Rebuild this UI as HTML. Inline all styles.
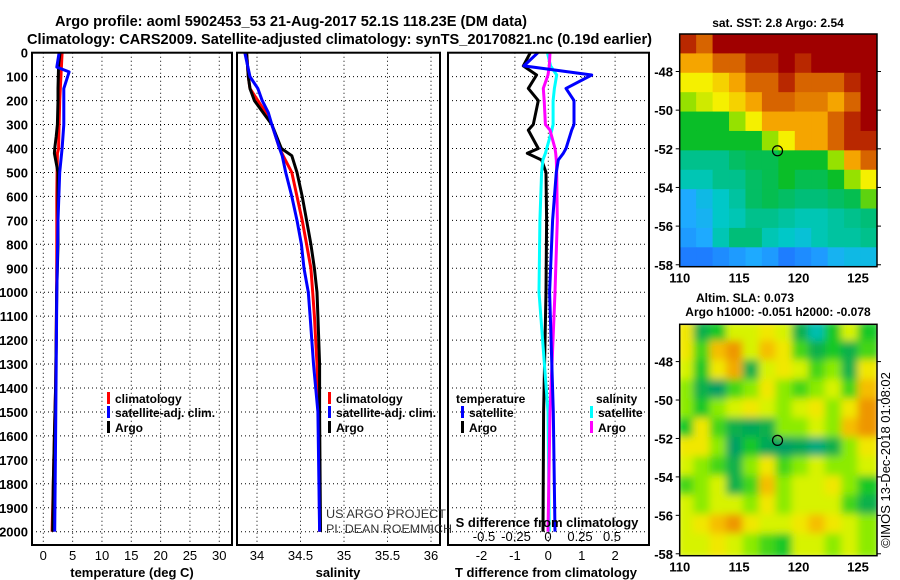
<!DOCTYPE html>
<html><head><meta charset="utf-8">
<style>
html,body{margin:0;padding:0;background:#fff;}
svg{display:block;font-family:"Liberation Sans",Arial,sans-serif;}
.b{font-weight:bold;}
</style></head>
<body>
<svg id="fig" width="900" height="580" viewBox="0 0 900 580">
<text class="b" x="55" y="26" font-size="15" textLength="472" lengthAdjust="spacingAndGlyphs">Argo profile: aoml 5902453_53 21-Aug-2017 52.1S 118.23E (DM data)</text>
<text class="b" x="27" y="44" font-size="15" textLength="625" lengthAdjust="spacingAndGlyphs">Climatology: CARS2009. Satellite-adjusted climatology: synTS_20170821.nc (0.19d earlier)</text>
<g id="panels"></g>
<g id="maps"></g>
<text class="b" x="778" y="27" font-size="12" text-anchor="middle">sat. SST: 2.8 Argo: 2.54</text>
<text class="b" x="745" y="302" font-size="12" text-anchor="middle">Altim. SLA: 0.073</text>
<text class="b" x="778" y="316" font-size="12" text-anchor="middle">Argo h1000: -0.051 h2000: -0.078</text>
<text x="0" y="0" font-size="13" text-anchor="middle" transform="translate(890,460) rotate(-90)">©IMOS 13-Dec-2018 01:08:02</text>
<text x="326" y="518" font-size="12" fill="#333" textLength="120" lengthAdjust="spacingAndGlyphs">US ARGO PROJECT</text>
<text x="326" y="533" font-size="12" fill="#333" textLength="126" lengthAdjust="spacingAndGlyphs">PI: DEAN ROEMMICH</text>
</svg>
<script>
// ---------- profile data ----------
const tDepth=[0,50,100,150,200,300,350,400,420,500,600,800,1000,1200,1400,1600,1800,2000];
const tArgo=[2.85,2.6,2.56,2.5,2.5,2.4,2.2,1.95,1.9,2.5,2.5,2.5,2.28,2.2,2.1,1.9,1.7,1.6];
const tClim=[3.2,3.1,3.0,2.9,2.8,2.7,2.65,2.6,2.4,2.35,2.3,2.3,2.27,2.2,2.1,1.9,1.7,1.5];
const tSatDepth=[0,60,80,150,300,400,500,700,1000,1300,1600,2000];
const tSat=[2.7,2.3,4.4,3.5,3.5,3.2,2.8,2.5,2.3,2.2,2.1,1.95];
const sDepth=[0,100,150,200,250,300,400,430,500,600,700,800,900,1000,1100,1300,1500,2000];
const sArgo=[33.88,33.9,33.92,33.97,34.07,34.17,34.28,34.4,34.46,34.52,34.57,34.62,34.66,34.69,34.7,34.72,34.72,34.73];
const sClim=[33.88,33.9,33.92,34.01,34.1,34.17,34.26,34.3,34.4,34.46,34.52,34.57,34.62,34.64,34.66,34.69,34.71,34.72];
const sSat=[33.86,33.92,34.01,34.06,34.13,34.17,34.26,34.29,34.33,34.4,34.46,34.51,34.54,34.59,34.61,34.65,34.7,34.72];
const dDepth=[0,55,93,149,200,300,323,400,420,448,500,700,1000,1500,2000];
const dTSat=[-0.31,-0.73,1.3,0.53,0.77,0.77,0.7,0.53,0.45,0.3,0.24,0.13,0.04,0.15,0.2];
const dTArgo=[-0.54,-0.75,-0.35,-0.6,-0.3,-0.45,-0.6,-0.3,-0.63,-0.2,-0.07,-0.05,-0.07,-0.14,-0.16];
const dSSat=[-0.005,0.02,0.068,0.05,0.04,0.04,0.03,-0.01,-0.02,-0.04,-0.05,-0.063,-0.07,0,0.01];
const dSArgo=[0.016,0.01,0.0,-0.037,-0.03,-0.02,0.016,0.055,0.06,0.065,0.068,0.073,0.055,0.016,0.0];
const depthTicks=[0,100,200,300,400,500,600,700,800,900,1000,1100,1200,1300,1400,1500,1600,1700,1800,1900,2000];
const tTicks=[0,5,10,15,20,25,30];
const sTicks=[34,34.5,35,35.5,36];
const dtTicks=[-2,-1,0,1,2];
const dsTicks=[-0.5,-0.25,0,0.25,0.5];
// ---------- map data (12 lon cols x 12 lat rows, north to south) ----------
const sstRows=[
[5.5,5,6,6,6,6,6,6,6,6,6,6],
[4.5,4.5,5,5,5.5,5.5,6,5.5,6,6,6,6],
[4,4,4.2,4.5,5,5,5.5,5,5,5,5.5,6],
[3.5,3.8,4,4.2,4.5,5,5,4.8,4.8,4.5,5,6],
[3,3,3,3.5,4,4.5,4.5,4.5,4.5,5,5.5,6],
[3,3,3,3,3,3.5,4,4.5,4.5,5,5.5,5.5],
[2.5,2.5,2.5,2.7,2.8,2.8,3,3,3,3.5,4.5,5],
[2.3,2.3,2.5,2.5,2.7,2.8,3,2.8,2.8,3,3.5,4],
[1.8,2,2.2,2.4,2.7,2.8,2.7,2.6,2.6,2.7,2.8,3.3],
[1.8,1.9,2.2,2.3,2.5,2.5,2.4,2.3,2.3,2.4,2.5,2.6],
[1.7,1.8,2.3,2.6,2.6,2.3,2.2,2.1,2.3,2.4,2.4,2.5],
[1.5,1.5,1.6,1.7,1.8,1.7,1.5,1.6,1.7,1.9,2,2]];
const slaRows=[
[0.5,-0.8,-0.5,0.3,0.3,0.5,0.3,-0.8,-1.3,-0.5,0.3,-0.5],
[0.5,-0.3,0.8,1,0.3,0.8,0.5,-0.3,-0.8,-0.5,-0.8,-0.3],
[0.3,-0.5,0.5,0.9,-0.8,0.3,0.5,0.3,-0.3,0,-0.8,0.5],
[0,-0.8,-1,-0.3,0,0.5,0,-0.3,0,0.3,-0.3,0.8],
[0,-0.5,0,0.3,0.5,0.3,0,0.3,0.5,0,0.5,1],
[-0.5,0.5,-0.3,-0.8,-0.9,-0.8,0,0,0.3,0,0.8,1],
[0.5,0.5,0,-1,-0.5,-0.9,-1,-0.9,-1.1,-0.8,0,0.5],
[0.3,0,-0.3,-0.8,0,0.5,-0.3,0,0.3,0,0,0.3],
[-0.3,0,0.3,-0.8,-0.3,0.8,0,0.3,0.3,0.5,0,-0.5],
[0.3,0,0.3,0.3,0,0.5,0,0.3,0.3,0.3,-0.3,-0.8],
[0.3,0.5,0.8,1,0.5,0.3,0.3,0.5,0.8,0.5,0.3,0],
[0.3,0.3,0.5,0.3,0,-0.3,-0.5,0.3,0.3,0,0.3,0]];
const lonTicks=[110,115,120,125];
const latTicks=[-48,-50,-52,-54,-56,-58];
const argoLon=[118.23];
const argoLat=[-52.1];

const NS='http://www.w3.org/2000/svg';
function mk(tag,attrs,parent){const e=document.createElementNS(NS,tag);for(const k in attrs)e.setAttribute(k,attrs[k]);parent.appendChild(e);return e;}
const panels=document.getElementById('panels');
const maps=document.getElementById('maps');
const TOP=52.7, BOT=545, PXM=0.2395;
const yD=d=>TOP+d*PXM;

function frame(x0,x1,name){
  const r=mk('rect',{x:x0,y:TOP,width:x1-x0,height:BOT-TOP,fill:'none',stroke:'#000','stroke-width':2},panels);
  
  
}
function grid(x0,x1,xs){
  depthTicks.forEach(d=>{const l=mk('line',{x1:x0,x2:x1,y1:yD(d),y2:yD(d),stroke:'#000','stroke-width':1,'stroke-dasharray':'1,3'},panels);
    
    });
  xs.forEach(x=>{const l=mk('line',{x1:x,x2:x,y1:TOP,y2:BOT,stroke:'#000','stroke-width':1,'stroke-dasharray':'1,3'},panels);
    
    });
}
function line(depths,vals,fx,color,name){
  const pts=depths.map((d,i)=>fx(vals[i]).toFixed(1)+','+yD(d).toFixed(1)).join(' ');
  const p=mk('polyline',{points:pts,fill:'none',stroke:color,'stroke-width':3,'stroke-linejoin':'round'},panels);
  
  
}
function txt(x,y,s,attrs,name){const t=mk('text',Object.assign({x:x,y:y,'font-size':13,'font-weight':'bold'},attrs||{}),panels);t.textContent=s;
  
  return t;}
function legItem(x,y,color,label,name){
  const r=mk('rect',{x:x,y:y-11,width:3,height:12,fill:color},panels);
  
  
  txt(x+8,y,label,{'font-size':12},name+'-label');
}

// Panel 1: temperature
const fT=v=>43.3+v*5.866;
grid(32,232,tTicks.map(fT));
line(tDepth,tClim,fT,'#f00','temp-climatology-line');
line(tDepth,tArgo,fT,'#000','temp-argo-line');
line(tSatDepth,tSat,fT,'#00f','temp-satellite-line');
frame(32,232,'temperature-panel');
depthTicks.forEach(d=>txt(28,yD(d)+5,String(d),{'text-anchor':'end'},'depth-tick-label'));
tTicks.forEach(v=>txt(fT(v),560,String(v),{'text-anchor':'middle','font-weight':'normal'},'temp-tick-label'));
txt(132,577,'temperature (deg C)',{'text-anchor':'middle'},'temp-axis-title');
legItem(107,403,'#f00','climatology','temp-legend-climatology');
legItem(107,417,'#00f','satellite-adj. clim.','temp-legend-satellite');
legItem(107,432,'#000','Argo','temp-legend-argo');

// Panel 2: salinity
const fS=v=>257+(v-34)*87;
grid(237,440,sTicks.map(fS));
line(sDepth,sClim,fS,'#f00','sal-climatology-line');
line(sDepth,sArgo,fS,'#000','sal-argo-line');
line(sDepth,sSat,fS,'#00f','sal-satellite-line');
frame(237,440,'salinity-panel');
sTicks.forEach(v=>txt(fS(v),560,String(v),{'text-anchor':'middle','font-weight':'normal'},'sal-tick-label'));
txt(338,577,'salinity',{'text-anchor':'middle'},'sal-axis-title');
legItem(328,403,'#f00','climatology','sal-legend-climatology');
legItem(328,417,'#00f','satellite-adj. clim.','sal-legend-satellite');
legItem(328,432,'#000','Argo','sal-legend-argo');

// Panel 3: differences
const fDT=v=>548.3+v*33.4;
const fDS=v=>548+v*128;
grid(448,649,dtTicks.map(fDT));
line(dDepth,dTArgo,fDT,'#000','dtemp-argo-line');
line(dDepth,dSSat,fDS,'#0ff','dsal-satellite-line');
line(dDepth,dSArgo,fDS,'#f0f','dsal-argo-line');
line(dDepth,dTSat,fDT,'#00f','dtemp-satellite-line');
frame(448,649,'difference-panel');
dtTicks.forEach(v=>txt(fDT(v),560,String(v),{'text-anchor':'middle','font-weight':'normal'},'dtemp-tick-label'));
dsTicks.forEach(v=>txt(fDS(v),541,String(v),{'text-anchor':'middle','font-weight':'normal'},'dsal-tick-label'));
txt(547,527,'S difference from climatology',{'text-anchor':'middle'},'dsal-axis-title');
txt(546,577,'T difference from climatology',{'text-anchor':'middle'},'dtemp-axis-title');
txt(456,403,'temperature',{'font-size':12},'dtemp-legend-title');
txt(596,403,'salinity',{'font-size':12},'dsal-legend-title');
legItem(461,417,'#00f','satellite','dtemp-legend-satellite');
legItem(461,432,'#000','Argo','dtemp-legend-argo');
legItem(590,417,'#0ff','satellite','dsal-legend-satellite');
legItem(590,432,'#f0f','Argo','dsal-legend-argo');

// ---------- maps ----------
function lerpC(stops,v){
  if(v<=stops[0][0])return stops[0][1];
  for(let i=1;i<stops.length;i++){if(v<=stops[i][0]){const a=stops[i-1],b=stops[i];const t=(v-a[0])/(b[0]-a[0]);
    const c=a[1].map((x,k)=>Math.round(x+(b[1][k]-x)*t));return c;}}
  return stops[stops.length-1][1];
}
const sstStops=[[1.4,[30,110,255]],[1.8,[30,170,255]],[2.2,[0,200,200]],[2.6,[0,190,120]],[3,[10,190,40]],[3.5,[150,225,0]],[4,[245,240,0]],[4.5,[245,165,0]],[5,[215,100,0]],[5.5,[185,40,0]],[6,[160,0,0]]];
const slaStops=[[-1.4,[0,200,200]],[-1,[0,160,100]],[-0.5,[20,200,40]],[0,[140,235,0]],[0.4,[240,245,0]],[0.8,[245,190,0]],[1.1,[235,130,0]]];
const LON0=110,LON1=126.6,LAT0=-46.06,LAT1=-58.1;
const MX0=679.7,MX1=877;
function drawMap(rows,stops,y0,y1,name,blur){
  const fx=lon=>MX0+(lon-LON0)/(LON1-LON0)*(MX1-MX0);
  const fy=lat=>y0+(lat-LAT0)/(LAT1-LAT0)*(y1-y0);
  const nr=rows.length,nc=rows[0].length;
  const clipId='clip'+name;
  const cp=mk('clipPath',{id:clipId},maps);mk('rect',{x:MX0,y:y0,width:MX1-MX0,height:y1-y0},cp);
  const g=mk('g',{'clip-path':'url(#'+clipId+')'},maps);
  
  
  const inner=mk('g',blur?{filter:'url(#'+blur+')'}:{},g);
  const dlon=(LON1-LON0)/nc,dlat=(LAT1-LAT0)/nr;
  rows.forEach((row,r)=>row.forEach((v,c)=>{
    const x=fx(LON0+c*dlon),y=fy(LAT0+r*dlat);
    const w=fx(LON0+(c+1)*dlon)-x,h=fy(LAT0+(r+1)*dlat)-y;
    const col=lerpC(stops,v);
    const cell=mk('rect',{x:x-(blur?3:0),y:y-(blur?3:0),width:w+(blur?6:0.5),height:h+(blur?6:0.5),fill:'rgb('+col.join(',')+')'},inner);
    
    
  }));
  const fr=mk('rect',{x:MX0,y:y0,width:MX1-MX0,height:y1-y0,fill:'none',stroke:'#000','stroke-width':1.5},maps);
  
  
  argoLon.forEach((lo,i)=>{const c=mk('circle',{cx:fx(lo),cy:fy(argoLat[i]),r:5,fill:'none',stroke:'#000','stroke-width':1.2},maps);
    
    });
  latTicks.forEach(l=>{const t=mk('text',{x:673,y:fy(l)+5,'font-size':13,'font-weight':'bold','text-anchor':'end'},maps);t.textContent=String(l);
    
    
    const tk=mk('line',{x1:MX0-4,x2:MX0,y1:fy(l),y2:fy(l),stroke:'#000'},maps);
    
    
    const tk2=mk('line',{x1:MX1,x2:MX1+4,y1:fy(l),y2:fy(l),stroke:'#000'},maps);
    
    });
  lonTicks.forEach(l=>{const t=mk('text',{x:fx(l),y:y1+16,'font-size':13,'font-weight':'bold','text-anchor':'middle'},maps);t.textContent=String(l);
    
    });
}
const defs=mk('defs',{},maps);
const f=mk('filter',{id:'soft',x:'-5%',y:'-5%',width:'110%',height:'110%'},defs);
mk('feGaussianBlur',{stdDeviation:4},f);
drawMap(sstRows,sstStops,34,266.7,'sst-map',null);
drawMap(slaRows,slaStops,324.3,555.7,'sla-map','soft');
</script>
</body></html>
